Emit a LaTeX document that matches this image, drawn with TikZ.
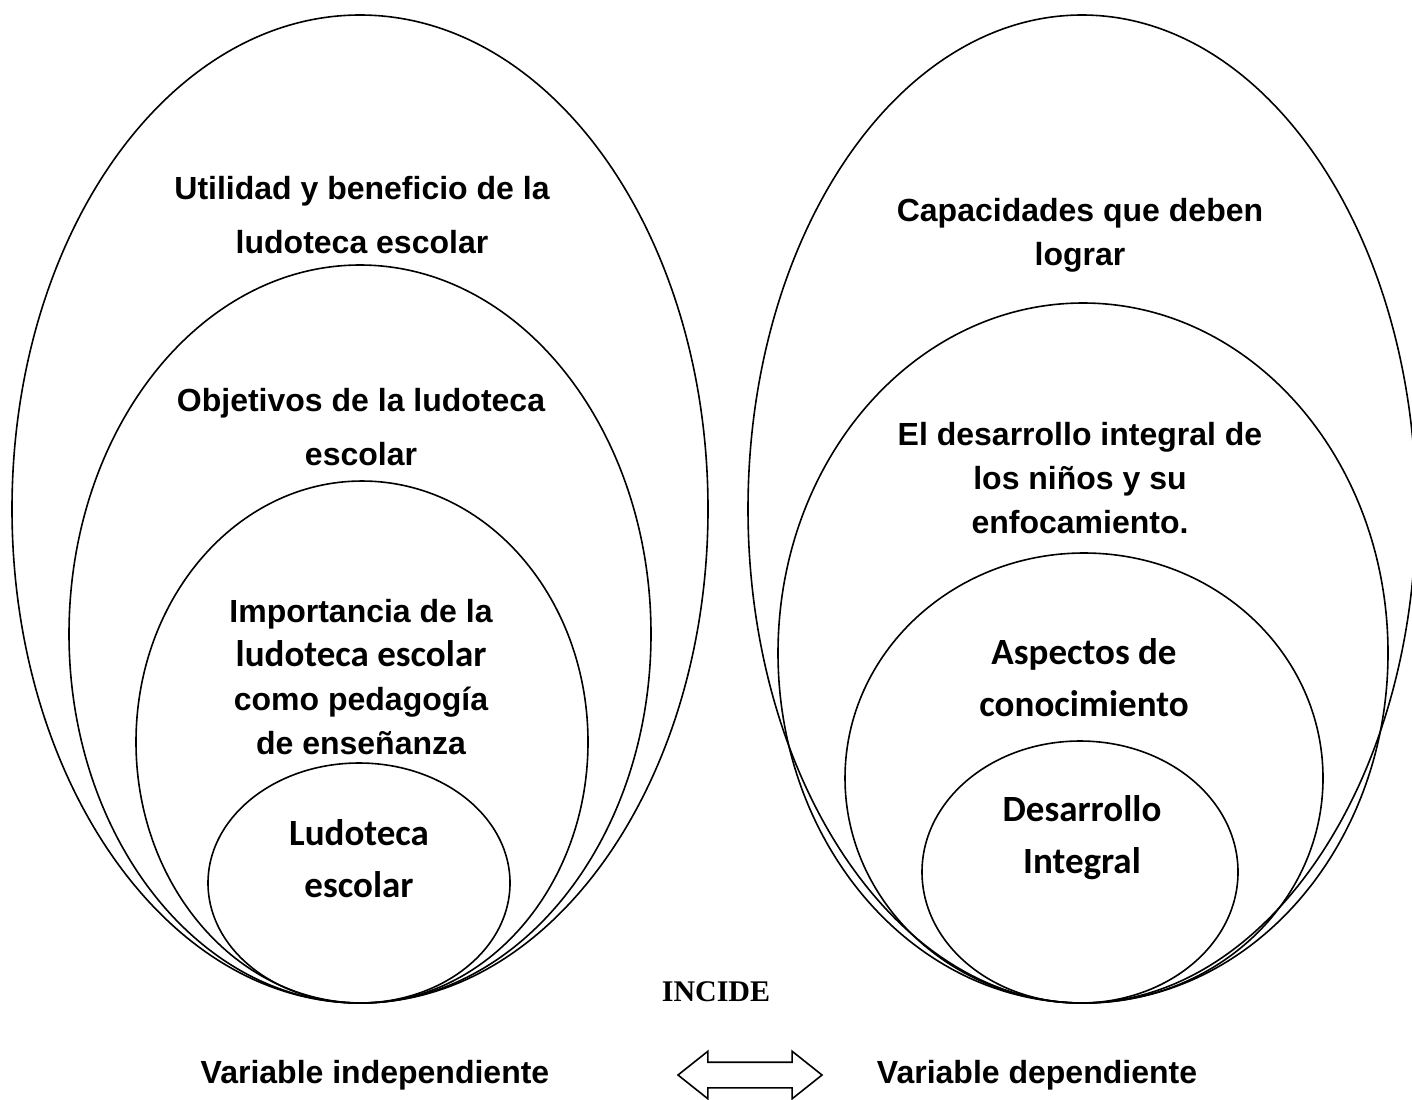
\documentclass[tikz,border=0pt]{standalone}
\usepackage{fontspec}
\setmainfont{Liberation Sans}
\newfontfamily\calibri{Carlito}
\newfontfamily\tnrfont{Liberation Serif}
\usetikzlibrary{shapes.geometric,shapes.arrows}

\tikzset{
    ring/.style={draw, ellipse, inner sep=0pt, line width=.8pt},
    arialtxt/.style={align=center, font=\bfseries\fontsize{16}{27}\selectfont},
    arialtight/.style={align=center, font=\bfseries\fontsize{16}{22}\selectfont},
    calibritxt/.style={align=center, font=\calibri\bfseries\fontsize{18.5}{26}\selectfont},
}

\begin{document}
\begin{tikzpicture}[x=.5pt, y=-.5pt]
\path[use as bounding box](0,0) rectangle (1412,1099);
\clip(0,0) rectangle (1412,1099);

% variable independiente
\foreach \n/\x/\y/\w/\h in {util/360/509/348/494, obj/360/634/291/369, imp/362/742/226/261, ludo/359/883/151/120}
{
    \node[ring, minimum width=\w pt, minimum height=\h pt] (\n) at (\x,\y) {};
}

% variable dependiente
\foreach \n/\x/\y/\w/\h in {cap/1082/509/334/494, des/1083/653/305/350, asp/1084/778/239/225, dint/1080/872/158/131}
{
    \node[ring, minimum width=\w pt, minimum height=\h pt] (\n) at (\x,\y) {};
}

\node (tutil) at (362,215)[arialtxt]{Utilidad y beneficio de la\\ludoteca escolar};
\node (tobj) at (361,427)[arialtxt]{Objetivos de la ludoteca\\escolar};
\node (timp) at (361,677)[arialtight]{Importancia de la\\\calibri\fontsize{18.5}{22}\selectfont ludoteca escolar\\como pedagogía\\de enseñanza};
\node (tludo) at (359,859)[calibritxt]{Ludoteca\\escolar};

\node (tcap) at (1080,235)[arialtight]{Capacidades que deben\\lograr};
\node (tdes) at (1080,478)[arialtight]{El desarrollo integral de\\los niños y su\\enfocamiento.};
\node (tasp) at (1084,678)[calibritxt]{Aspectos de\\conocimiento};
\node (tdint) at (1082,838)[calibritxt]{Desarrollo\\Integral};

\node (incide) at (716,992)[font=\tnrfont\bfseries\fontsize{15}{18}\selectfont]{INCIDE};
\node (vind) at (375,1075)[font=\bfseries\fontsize{16}{20}\selectfont]{Variable independiente};
\node (vdep) at (1037,1075)[font=\bfseries\fontsize{16}{20}\selectfont]{Variable dependiente};
\node (flecha) at (750,1075)[draw, double arrow, line width=.8pt, inner sep=0pt, inner ysep=6pt,
    minimum height=72pt, minimum width=23pt, double arrow head extend=5.5pt, double arrow tip angle=77]{};

\end{tikzpicture}
\end{document}
